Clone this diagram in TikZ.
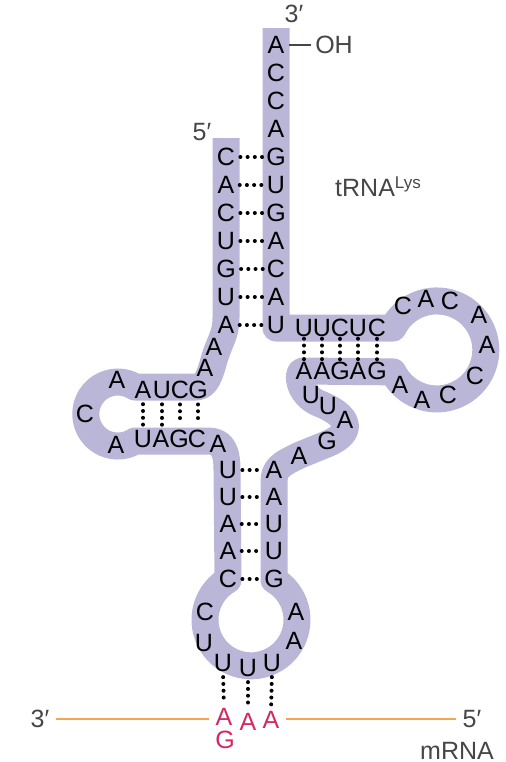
\documentclass[tikz,border=0pt]{standalone}
\usepackage{fontspec}
\setmainfont{Liberation Sans}
\definecolor{bandcol}{RGB}{186,182,216}
\definecolor{labelgray}{RGB}{70,70,70}
\definecolor{mrnaorange}{RGB}{245,165,80}
\definecolor{codonred}{RGB}{214,40,96}
\tikzset{
  base/.style={inner sep=0pt, minimum width=7.5pt, minimum height=8pt, font=\fontsize{12.5}{13}\selectfont},
  codon/.style={base, text=codonred},
  lbl/.style={inner sep=0pt, text=labelgray, font=\fontsize{12.5}{14}\selectfont},
  backbone/.style={bandcol, line width=13.5pt, line join=round},
  hpair/.style={line width=2pt, line cap=round, dash pattern=on 0pt off 3.6pt, shorten <=2.5pt, shorten >=1.5pt},
  vpair/.style={line width=2pt, line cap=round, dash pattern=on 0pt off 3.4pt, shorten <=#1, shorten >=#1},
  mrna/.style={mrnaorange, line width=0.6pt}
}

\begin{document}
\begin{tikzpicture}[x=0.5pt,y=-0.5pt]
\useasboundingbox (0,0) rectangle (506,762);
% sugar-phosphate backbone, 3' end to 5' end
\draw[backbone] (276,28) -- (276,328) -- (393,328)
  arc[start angle=206.6, end angle=513.4, radius=49] -- (303,371)
  .. controls (296,371) and (298,394) .. (318,403)
  .. controls (349,415) and (356,432) .. (327,444) -- (300,455)
  .. controls (281,464) and (274,468) .. (274,482) -- (274,580)
  arc[start angle=-60, end angle=240, radius=46] -- (227,470)
  .. controls (227,450) and (222,441) .. (208,441) -- (135,441)
  arc[start angle=57.5, end angle=302.5, radius=32] -- (196,387)
  .. controls (206,387) and (210,375) .. (214,360)
  .. controls (220,340) and (226,335) .. (226,318) -- (226,138);

% acceptor stem
\node[base] (a1) at (226,157) {C};
\node[base] (a2) at (226,185) {A};
\node[base] (a3) at (226,213) {C};
\node[base] (a4) at (226,241) {U};
\node[base] (a5) at (226,269) {G};
\node[base] (a6) at (226,297) {U};
\node[base] (a7) at (226,325) {A};
\node[base] (b1) at (276,45) {A};
\node[base] (b2) at (276,73) {C};
\node[base] (b3) at (276,101) {C};
\node[base] (b4) at (276,129) {A};
\node[base] (b5) at (276,157) {G};
\node[base] (b6) at (276,185) {U};
\node[base] (b7) at (276,213) {G};
\node[base] (b8) at (276,241) {A};
\node[base] (b9) at (276,269) {C};
\node[base] (b10) at (276,297) {A};
\node[base] (b11) at (276,325) {U};
\node[base] (j1) at (214,347) {A};
\node[base] (j2) at (205,368) {A};

% D arm
\node[base] (d1) at (143,390) {A};
\node[base] (d2) at (162,390) {U};
\node[base] (d3) at (180,390) {C};
\node[base] (d4) at (198,390) {G};
\node[base] (dl1) at (117,380) {A};
\node[base] (dl2) at (85,414) {C};
\node[base] (dl3) at (116,445) {A};
\node[base] (e1) at (143,439) {U};
\node[base] (e2) at (161,439) {A};
\node[base] (e3) at (179,439) {G};
\node[base] (e4) at (197,439) {C};
\node[base] (e5) at (218,444) {A};

% anticodon arm
\node[base] (c1) at (228,470) {U};
\node[base] (c2) at (228,497) {U};
\node[base] (c3) at (228,524) {A};
\node[base] (c4) at (228,551) {A};
\node[base] (c5) at (228,579) {C};
\node[base] (r1) at (274,470) {A};
\node[base] (r2) at (274,497) {A};
\node[base] (r3) at (274,524) {U};
\node[base] (r4) at (274,551) {U};
\node[base] (r5) at (274,579) {G};
\node[base] (l1) at (205,612) {C};
\node[base] (l2) at (204,643) {U};
\node[base] (l3) at (223,663) {U};
\node[base] (l4) at (248,668) {U};
\node[base] (l5) at (272,663) {U};
\node[base] (l6) at (294,641) {A};
\node[base] (l7) at (296,612) {A};

% variable loop
\node[base] (v1) at (299,456) {A};
\node[base] (v2) at (327,441) {G};
\node[base] (v3) at (345,420) {A};
\node[base] (v4) at (328,406) {U};
\node[base] (v5) at (311,395) {U};

% T arm
\node[base] (s1) at (304,328) {U};
\node[base] (s2) at (322,328) {U};
\node[base] (s3) at (340,328) {C};
\node[base] (s4) at (358,328) {U};
\node[base] (s5) at (377,328) {C};
\node[base] (t1) at (304,371) {A};
\node[base] (t2) at (322,371) {A};
\node[base] (t3) at (340,371) {G};
\node[base] (t4) at (358,371) {A};
\node[base] (t5) at (377,371) {G};
\node[base] (k1) at (400,385) {A};
\node[base] (k2) at (422,400) {A};
\node[base] (k3) at (448,395) {C};
\node[base] (k4) at (475,376) {C};
\node[base] (k5) at (487,345) {A};
\node[base] (k6) at (479,315) {A};
\node[base] (k7) at (450,301) {C};
\node[base] (k8) at (426,299) {A};
\node[base] (k9) at (403,306) {C};

% base pairs
\foreach \i/\j in {1/5,2/6,3/7,4/8,5/9,6/10,7/11}
  \draw[hpair] (a\i.east) -- (b\j.west);
\foreach \i in {1,...,5}
  \draw[hpair] (c\i.east) -- (r\i.west);
\foreach \i in {1,...,4}
  \draw[vpair=2.6pt] (d\i.south) -- (d\i.south |- e\i.north);
\foreach \i in {1,...,5}
  \draw[vpair=0.8pt] (s\i.south) -- (t\i.north);

% mRNA and codon
\node[codon] (m1) at (224,717) {A};
\node[codon] (mg) at (225,740) {G};
\node[codon] (m2) at (248,722) {A};
\node[codon] (m3) at (271,720) {A};
\draw[vpair=2.5pt] (l3.south) -- (m1.north);
\draw[vpair=2.5pt] (l4.south) -- (m2.north);
\draw[vpair=2.5pt] (l5.south) -- (m3.north);
\node[lbl] (three) at (40,719) {3′};
\node[lbl] (five) at (472,719) {5′};
\node[lbl] (mlabel) at (457,751) {mRNA};
\draw[mrna, shorten <=3pt, shorten >=3pt] (three.east) -- (three.east -| m1.west);
\draw[mrna, shorten <=3pt, shorten >=3pt] (five.west -| m3.east) -- (five.west);

% ends and name
\node[lbl] (tail) at (294,14) {3′};
\node[lbl] (head) at (202,132) {5′};
\node[lbl] (oh) at (334,45) {OH};
\draw[labelgray, line width=0.6pt, shorten <=2pt, shorten >=2pt] (b1.east) -- (oh.west);
\node[lbl] (name) at (378,187) {tRNA\raisebox{0.6ex}{\fontsize{8.5}{9}\selectfont Lys}};
\end{tikzpicture}
\end{document}
